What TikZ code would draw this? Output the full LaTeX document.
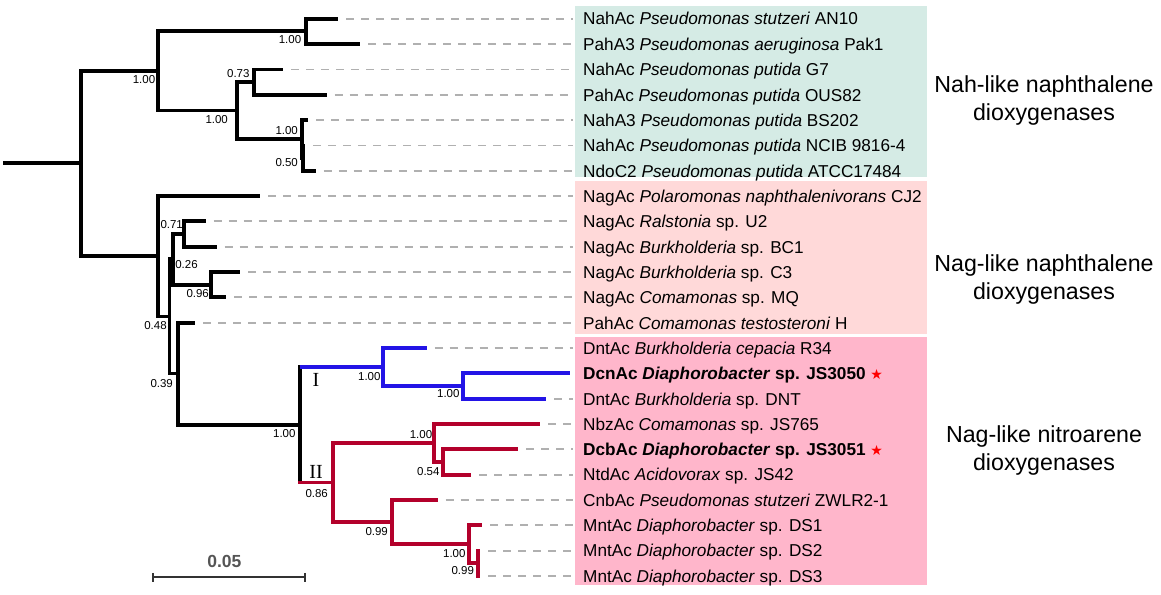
\documentclass[tikz,border=0pt]{standalone}
\usepackage{fontspec}
\setmainfont{Liberation Sans}
\newfontfamily\seriff{Liberation Serif}
\newfontfamily\starf{DejaVu Sans}
\definecolor{nahbg}{HTML}{D5EBE5}
\definecolor{nagbg}{HTML}{FFD9D9}
\definecolor{nitbg}{HTML}{FFB6CB}
\definecolor{cladeI}{HTML}{2314E6}
\definecolor{cladeII}{HTML}{B3002B}
\definecolor{dashg}{HTML}{B0B0B0}
\definecolor{sbgray}{HTML}{555555}
\newcommand{\rstar}{~{\starf\fontsize{14}{14}\selectfont\textcolor{red}{★}}}
\begin{document}
\begin{tikzpicture}[x=1pt,y=-1pt,
  br/.style={line width=3.8pt},
  dsh/.style={line width=1.8pt, dashg, dash pattern=on 8pt off 7pt},
  leaf/.style={inner sep=0pt, anchor=base west, font=\fontsize{17.2}{20}\selectfont},
  bs/.style={inner sep=0pt, font=\fontsize{11.5}{13}\selectfont},
  grp/.style={inner sep=0pt, anchor=north, align=center, font=\fontsize{23.2}{28}\selectfont},
  clab/.style={inner sep=0pt, font=\seriff\fontsize{20}{21}\selectfont},
  sb/.style={line width=2pt, black!80}]
\useasboundingbox (0,0) rectangle (1161,594);
% background boxes
\fill[nahbg] (575,6) rectangle (927,176.7);
\fill[nagbg] (575,180.7) rectangle (927,334.3);
\fill[nitbg] (575,337.3) rectangle (927,585);
% internal nodes
\coordinate (root0) at (3.3,163.3);
\coordinate (root) at (81,163.3);
\coordinate (nah) at (158.3,70.85);
\coordinate (nahA) at (305.7,31.35);
\coordinate (nahB) at (236.7,110.5);
\coordinate (nahC) at (254.3,82.05);
\coordinate (nahD) at (301.7,139.2);
\coordinate (nahE) at (303.3,158.05);
\coordinate (nag) at (158.3,256);
\coordinate (nC) at (169.5,316.4);
\coordinate (nG) at (173,259.3);
\coordinate (nH) at (184.3,234);
\coordinate (nI) at (210.7,284.65);
\coordinate (nD) at (178.3,373.5);
\coordinate (nE) at (300,424.7);
\coordinate (nJ) at (383.3,367);
\coordinate (nK) at (462.7,386);
\coordinate (nL) at (333.3,482.5);
\coordinate (nM) at (434.3,443);
\coordinate (nN) at (443.3,462);
\coordinate (nO) at (392.3,522.3);
\coordinate (nP) at (469,544.3);
\coordinate (nQ) at (478.3,563.3);
% tips
\coordinate (t0) at (338.3,18.7);
\coordinate (t1) at (360,44.0);
\coordinate (t2) at (283.3,69.4);
\coordinate (t3) at (326.7,94.7);
\coordinate (t4) at (308.3,120.0);
\coordinate (t5) at (305,145.4);
\coordinate (t6) at (315.7,170.7);
\coordinate (t7) at (260,196.0);
\coordinate (t8) at (205.7,221.3);
\coordinate (t9) at (216.7,246.7);
\coordinate (t10) at (240,272.0);
\coordinate (t11) at (226,297.3);
\coordinate (t12) at (195,322.7);
\coordinate (t13) at (426.7,348.0);
\coordinate (t14) at (570,373.3);
\coordinate (t15) at (546,398.7);
\coordinate (t16) at (540,424.0);
\coordinate (t17) at (518.3,449.3);
\coordinate (t18) at (471,474.6);
\coordinate (t19) at (437.7,500.0);
\coordinate (t20) at (482.3,525.3);
\coordinate (t21) at (480,550.6);
\coordinate (t22) at (480,576.0);
\coordinate (boxl) at (573,0);
\coordinate (lblx) at (583,0);
% dashed leaders
\foreach \i in {0,...,13,15,16,...,22}
  \draw[dsh] ([xshift=8pt]t\i) -- (t\i -| boxl);
% black branches
\draw[br] (root0) -- (root);
\draw[br] (root) |- (nah);
\draw[br] (root) |- (nag);
\draw[br] (nah) |- (nahA);
\draw[br] (nah) |- (nahB);
\draw[br] (nahA) |- (t0);
\draw[br] (nahA) |- (t1);
\draw[br] (nahB) |- (nahC);
\draw[br] (nahB) |- (nahD);
\draw[br] (nahC) |- (t2);
\draw[br] (nahC) |- (t3);
\draw[br] (nahD) |- (t4);
\draw[br] (nahD) |- (nahE);
\draw[br] (nahE) |- (t5);
\draw[br] (nahE) |- (t6);
\draw[br] (nag) |- (t7);
\draw[br] (nag) |- (nC);
\draw[br] (nC) |- (nG);
\draw[br] (nC) |- (nD);
\draw[br] (nG) |- (nH);
\draw[br] (nG) |- (nI);
\draw[br] (nH) |- (t8);
\draw[br] (nH) |- (t9);
\draw[br] (nI) |- (t10);
\draw[br] (nI) |- (t11);
\draw[br] (nD) |- (t12);
\draw[br] (nD) |- (nE);
\draw[br, line cap=rect] (nJ -| nE) -- (nL -| nE);
% clade I (blue)
\begin{scope}[cladeI]
\draw[br] (nJ -| nE) -- (nJ);
\draw[br] (nJ) |- (t13);
\draw[br] (nJ) |- (nK);
\draw[br] (nK) |- (t14);
\draw[br] (nK) |- (t15);
\end{scope}
% clade II (red)
\begin{scope}[cladeII]
\draw[br] ([xshift=-1.9pt]nL -| nE) -- (nL);
\draw[br] (nL) |- (nM);
\draw[br] (nL) |- (nO);
\draw[br] (nM) |- (t16);
\draw[br] (nM) |- (nN);
\draw[br] (nN) |- (t17);
\draw[br] (nN) |- (t18);
\draw[br] (nO) |- (t19);
\draw[br] (nO) |- (nP);
\draw[br] (nP) |- (t20);
\draw[br] (nP) |- (nQ);
\draw[br] (nQ) |- (t21);
\draw[br] (nQ) |- (t22);
\end{scope}
% support values
\node[bs] (b1) at (144,80) {1.00};
\node[bs] (b2) at (290,40) {1.00};
\node[bs] (b3) at (216.7,120) {1.00};
\node[bs] (b4) at (238.3,73.3) {0.73};
\node[bs] (b5) at (286.7,130.7) {1.00};
\node[bs] (b6) at (286.7,162.3) {0.50};
\node[bs] (b7) at (171.7,225) {0.71};
\node[bs] (b8) at (186.5,265) {0.26};
\node[bs] (b9) at (197.7,293.3) {0.96};
\node[bs] (b10) at (155.5,326) {0.48};
\node[bs] (b11) at (161.7,383.3) {0.39};
\node[bs] (b12) at (284.3,433.3) {1.00};
\node[bs] (b13) at (316.7,493.3) {0.86};
\node[bs] (b14) at (369.3,376.7) {1.00};
\node[bs] (b15) at (448.3,394) {1.00};
\node[bs] (b16) at (421,435) {1.00};
\node[bs] (b17) at (428.3,471.7) {0.54};
\node[bs] (b18) at (376.7,531.7) {0.99};
\node[bs] (b19) at (454.3,554) {1.00};
\node[bs] (b20) at (462.7,570.7) {0.99};
% clade labels
\node[clab] (cI) at (316,380) {I};
\node[clab] (cII) at (316,471.7) {II};
% leaf labels
\foreach \i/\txt in {
 0/{NahAc \textit{Pseudomonas stutzeri} AN10},
 1/{PahA3 \textit{Pseudomonas aeruginosa} Pak1},
 2/{NahAc \textit{Pseudomonas putida} G7},
 3/{PahAc \textit{Pseudomonas putida} OUS82},
 4/{NahA3 \textit{Pseudomonas putida} BS202},
 5/{NahAc \textit{Pseudomonas putida} NCIB 9816-4},
 6/{NdoC2 \textit{Pseudomonas putida} ATCC17484},
 7/{NagAc \textit{Polaromonas naphthalenivorans} CJ2},
 8/{NagAc \textit{Ralstonia} sp. U2},
 9/{NagAc \textit{Burkholderia} sp. BC1},
 10/{NagAc \textit{Burkholderia} sp. C3},
 11/{NagAc \textit{Comamonas} sp. MQ},
 12/{PahAc \textit{Comamonas testosteroni} H},
 13/{DntAc \textit{Burkholderia cepacia} R34},
 14/{\textbf{DcnAc \textit{Diaphorobacter} sp. JS3050}\rstar},
 15/{DntAc \textit{Burkholderia} sp. DNT},
 16/{NbzAc \textit{Comamonas} sp. JS765},
 17/{\textbf{DcbAc \textit{Diaphorobacter} sp. JS3051}\rstar},
 18/{NtdAc \textit{Acidovorax} sp. JS42},
 19/{CnbAc \textit{Pseudomonas stutzeri} ZWLR2-1},
 20/{MntAc \textit{Diaphorobacter} sp. DS1},
 21/{MntAc \textit{Diaphorobacter} sp. DS2},
 22/{MntAc \textit{Diaphorobacter} sp. DS3}}
  \node[leaf] (l\i) at ([yshift=-6.3pt]t\i -| lblx) {\txt};
% group labels
\node[grp] (g1) at (1044,75) {Nah-like naphthalene\\dioxygenases};
\node[grp] (g2) at (1044,254.5) {Nag-like naphthalene\\dioxygenases};
\node[grp] (g3) at (1044,425.5) {Nag-like nitroarene\\dioxygenases};
% scale bar
\coordinate (sbL) at (153.3,577.3);
\coordinate (sbR) at (305,577.3);
\draw[sb] (sbL) -- (sbR);
\draw[sb] ([yshift=4.5pt]sbL) -- ([yshift=-4.5pt]sbL);
\draw[sb] ([yshift=4.5pt]sbR) -- ([yshift=-4.5pt]sbR);
\node[inner sep=0pt, text=sbgray, font=\bfseries\fontsize{17.5}{18}\selectfont] (sblab) at (224.3,561.7) {0.05};
\end{tikzpicture}
\end{document}
